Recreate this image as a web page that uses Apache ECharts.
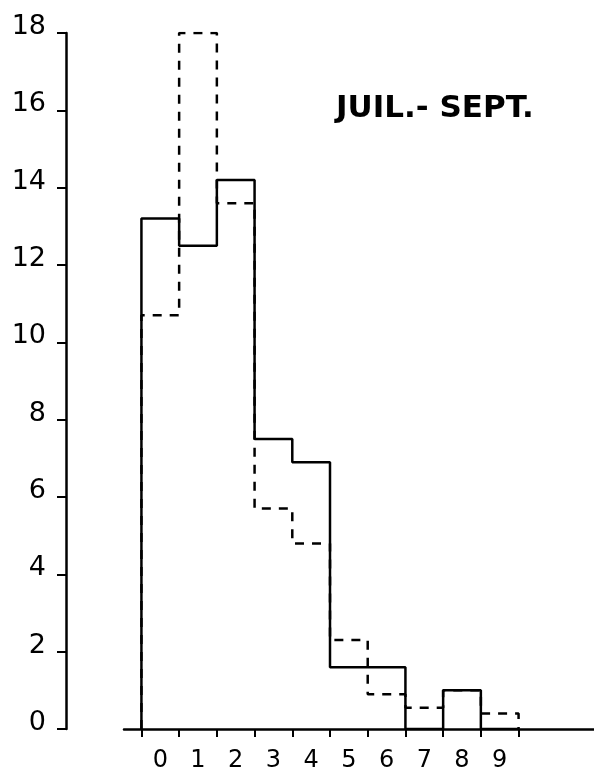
<!DOCTYPE html>
<html>
<head>
<meta charset="utf-8">
<script src="https://cdn.jsdelivr.net/npm/echarts@6/dist/echarts.min.js"></script>
<style>
  html, body { margin: 0; padding: 0; background: #fff; }
  #chart { width: 594px; height: 771px; }
</style>
</head>
<body>
<div id="chart"></div>
<script>
// Frequency classes 0..9 (one bin per class)
const binLabels = ['0', '1', '2', '3', '4', '5', '6', '7', '8', '9'];
// Solid outline histogram
const solidValues = [13.2, 12.5, 14.2, 7.5, 6.9, 1.6, 1.6, 0, 1.0, 0];
// Dashed outline histogram
const dashedValues = [10.7, 18.0, 13.6, 5.7, 4.8, 2.3, 0.9, 0.55, 1.0, 0.4];
// Y axis ticks
const yTicks = [0, 2, 4, 6, 8, 10, 12, 14, 16, 18];
const titleText = 'JUIL.- SEPT.';

// Turn bin heights into an outline: rise at the first edge, drop at the last
function outline(values) {
  const pts = [[0, 0]];
  values.forEach((v, i) => pts.push([i, v]));
  pts.push([values.length, 0]);
  return pts;
}

const edges = [];
for (let i = 0; i <= binLabels.length; i++) edges.push(i);
const centers = binLabels.map((_, i) => i + 0.5);

const FONT = 'DejaVu Sans';
const INK = '#000';
const chart = echarts.init(document.getElementById('chart'), null, { renderer: 'canvas' });

chart.setOption({
  backgroundColor: '#fff',
  animation: false,
  title: {
    text: titleText,
    left: 331,
    top: 88,
    textStyle: { fontFamily: FONT, fontSize: 31, fontWeight: 'bold', color: INK }
  },
  grid: [
    { left: 66, right: 0, top: 33, bottom: 42, containLabel: false, outerBoundsMode: 'none' },
    { left: 124, right: 0, top: 33, bottom: 42, containLabel: false, outerBoundsMode: 'none' }
  ],
  xAxis: [
    {
      type: 'value', gridIndex: 0, min: -2, max: 12,
      axisLine: { show: false, onZero: false },
      splitLine: { show: false },
      axisTick: {
        show: true, inside: false, length: 8,
        customValues: edges,
        lineStyle: { color: INK, width: 2 }
      },
      axisLabel: {
        show: true, margin: 20,
        customValues: centers,
        formatter: v => binLabels[Math.floor(v)],
        fontFamily: FONT, fontSize: 24, color: INK
      }
    },
    {
      type: 'value', gridIndex: 1, min: 0, max: 1,
      axisLine: { show: true, onZero: false, lineStyle: { color: INK, width: 2.5 } },
      axisTick: { show: false },
      axisLabel: { show: false },
      splitLine: { show: false }
    }
  ],
  yAxis: [
    {
      type: 'value', gridIndex: 0, min: yTicks[0], max: yTicks[yTicks.length - 1], interval: 2,
      axisLine: { show: true, onZero: false, lineStyle: { color: INK, width: 2.5 } },
      axisTick: { show: true, inside: false, length: 9, lineStyle: { color: INK, width: 2 } },
      axisLabel: {
        margin: 20, fontFamily: FONT, fontSize: 27, color: INK,
        verticalAlign: 'bottom', lineHeight: 12
      },
      splitLine: { show: false }
    },
    {
      type: 'value', gridIndex: 1, min: 0, max: 1, show: false
    }
  ],
  series: [
    {
      name: 'solid', type: 'line', xAxisIndex: 0, yAxisIndex: 0,
      step: 'end', symbol: 'none', silent: true,
      lineStyle: { color: INK, width: 2.5 },
      data: outline(solidValues)
    },
    {
      name: 'dashed', type: 'line', xAxisIndex: 0, yAxisIndex: 0,
      step: 'end', symbol: 'none', silent: true,
      lineStyle: { color: INK, width: 2.5, type: [9, 8] },
      data: outline(dashedValues)
    }
  ]
});
</script>
</body>
</html>
